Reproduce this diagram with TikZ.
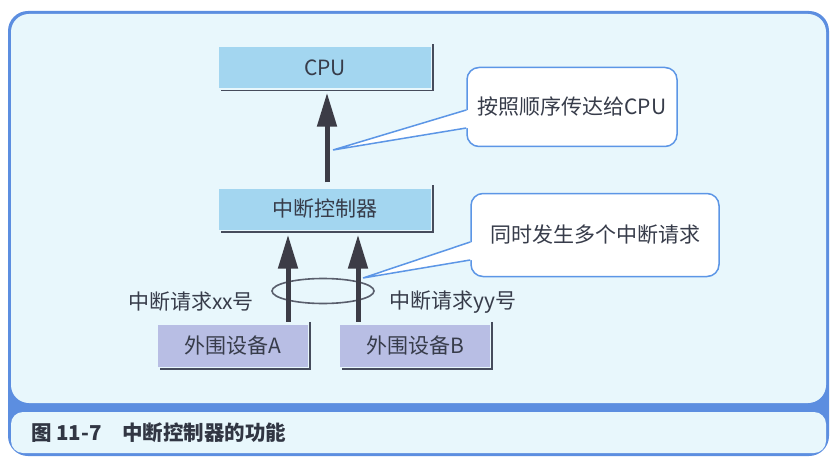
\documentclass[tikz,border=0pt]{standalone}
\usepackage{fontspec}
\setmainfont{Noto Sans CJK SC}
\usetikzlibrary{arrows.meta,calc,shapes.geometric}
\definecolor{frameblue}{RGB}{92,142,224}
\definecolor{panelbg}{RGB}{232,247,252}
\definecolor{boxblue}{RGB}{163,214,240}
\definecolor{boxlav}{RGB}{184,190,228}
\definecolor{shadowc}{RGB}{70,76,92}
\definecolor{arrowc}{RGB}{60,60,70}
\definecolor{calloutc}{RGB}{92,150,230}
\definecolor{txt}{RGB}{55,60,74}
\tikzset{
  txtfont/.style={font=\fontsize{21}{24}\selectfont, text=txt},
  capfont/.style={font=\fontsize{20.5}{24}\selectfont\bfseries, text=txt!90!black, inner sep=0pt, anchor=west},
  unitbox/.style={minimum width=212pt, minimum height=41pt, inner sep=0pt, fill=boxblue, txtfont},
  devbox/.style={minimum width=150pt, minimum height=42pt, inner sep=0pt, fill=boxlav, txtfont},
  shadowline/.style={draw=shadowc, line width=1.6pt},
  bigarrow/.style={draw=arrowc, line width=5pt, -{Triangle[length=34pt,width=19pt]}},
  callout/.style={draw=calloutc, line width=1.5pt, fill=white, rounded corners=12pt, inner sep=0pt, txtfont},
  lbl/.style={txtfont, inner sep=0pt},
}
\newcommand{\boxshadow}[1]{%
  \draw[shadowline] ([xshift=2pt,yshift=3pt]#1.north east) -- ([xshift=2pt,yshift=-2pt]#1.south east) -- ([xshift=2pt,yshift=-2pt]#1.south west);}
\begin{document}
\begin{tikzpicture}[x=1pt,y=-1pt]
\useasboundingbox (0,0) rectangle (837,457);
% frame
\fill[frameblue, rounded corners=20pt] (8,11) rectangle (829,456);
\fill[panelbg, rounded corners=18pt] (11,14) rectangle (826,403);
\fill[panelbg, rounded corners=12pt] (11,412) rectangle (826,453);
\node[capfont] (capnum) at (31,433) {图 11-7};
\node[capfont] (captitle) at (122,433) {中断控制器的功能};

% boxes
\node[unitbox] (cpu) at (325,68) {CPU};
\boxshadow{cpu}
\node[unitbox] (ctrl) at (325,209) {中断控制器};
\boxshadow{ctrl}
\node[devbox] (da) at (233,346) {外围设备A};
\boxshadow{da}
\node[devbox] (db) at (415,346) {外围设备B};
\boxshadow{db}

% ellipse
\node[draw=shadowc!90, line width=1.6pt, ellipse, minimum width=102pt, minimum height=25pt, inner sep=0pt] (grp) at (323,291) {};

% arrows
\draw[bigarrow] ([xshift=2pt,yshift=6pt]ctrl.north) -- ([xshift=2pt,yshift=-4pt]cpu.south);
\draw[bigarrow] ([xshift=55pt,yshift=3pt]da.north) -- ([xshift=55pt,yshift=-5pt]da.north |- ctrl.south);
\draw[bigarrow] ([xshift=-57pt,yshift=3pt]db.north) -- ([xshift=-57pt,yshift=-5pt]db.north |- ctrl.south);

% labels
\node[lbl] (lxx) at (191,302) {中断请求xx号};
\node[lbl] (lyy) at (453,302) {中断请求yy号};

% callouts
\node[callout, minimum width=210pt, minimum height=79pt] (c1) at (572,107) {按照顺序传达给CPU};
\coordinate (t1) at (333,150);
\fill[white] (t1) -- ($(c1.west)+(2,3)$) -- ($(c1.west)+(2,21)$) -- cycle;
\draw[calloutc, line width=1.5pt] ($(c1.west)+(0,3)$) -- (t1) -- ($(c1.west)+(0,21)$);

\node[callout, minimum width=248pt, minimum height=83pt] (c2) at (595,235) {同时发生多个中断请求};
\coordinate (t2) at (363,278);
\fill[white] (t2) -- ($(c2.west)+(2,7)$) -- ($(c2.west)+(2,25)$) -- cycle;
\draw[calloutc, line width=1.5pt] ($(c2.west)+(0,7)$) -- (t2) -- ($(c2.west)+(0,25)$);
\end{tikzpicture}
\end{document}
